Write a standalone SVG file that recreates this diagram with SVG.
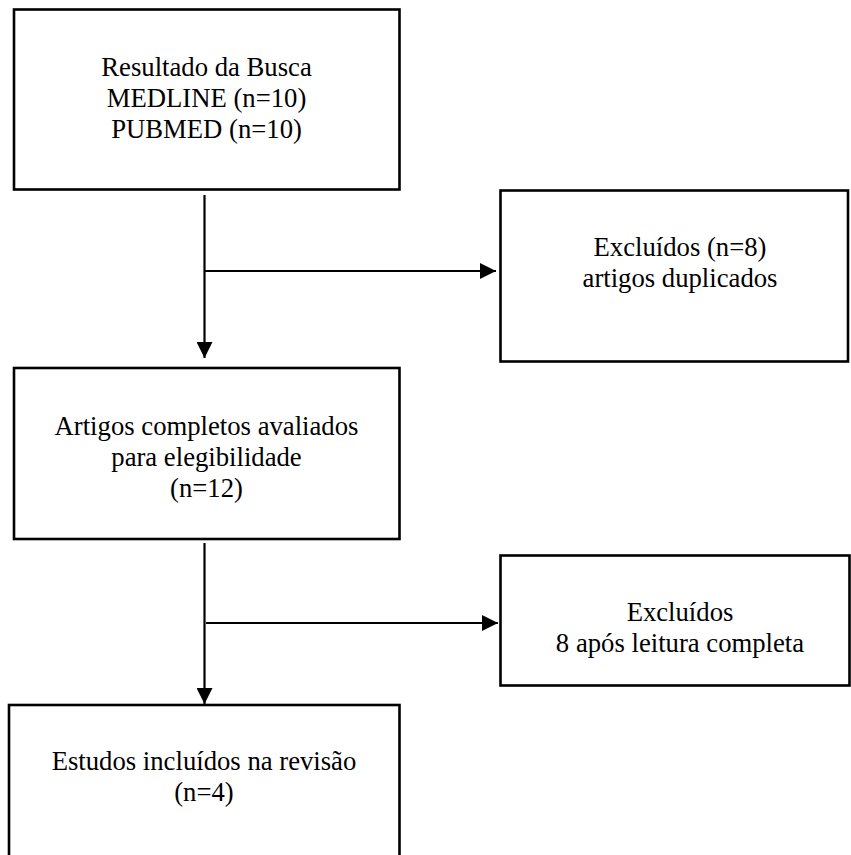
<svg xmlns="http://www.w3.org/2000/svg" width="851" height="855" viewBox="0 0 851 855">
<style>
.box{fill:#fff;stroke:#000;stroke-width:2.6}
.t{font-family:"Liberation Serif","Times New Roman",serif;font-size:26.7px;fill:#000;text-anchor:middle}
.ln{stroke:#000;stroke-width:2.2;fill:none}
</style>
<defs>
<marker id="ah" markerUnits="userSpaceOnUse" markerWidth="16" markerHeight="16" viewBox="0 0 16 16" refX="16" refY="8" orient="auto">
<path d="M0,0 L16,8 L0,16 Z" fill="#000"/>
</marker>
</defs>
<rect width="851" height="855" fill="#fff"/>
<g id="connectors">
<line class="ln" x1="204.5" y1="195" x2="204.5" y2="358" marker-end="url(#ah)"/>
<line class="ln" x1="204.5" y1="271" x2="496" y2="271" marker-end="url(#ah)"/>
<line class="ln" x1="204.5" y1="543" x2="204.5" y2="704" marker-end="url(#ah)"/>
<line class="ln" x1="206" y1="623" x2="498" y2="623" marker-end="url(#ah)"/>
</g>
<g id="n1">
<rect class="box" x="14" y="9.5" width="385.5" height="180"/>
<text class="t" x="206.5" y="76">Resultado da Busca</text>
<text class="t" x="206.5" y="107">MEDLINE (n=10)</text>
<text class="t" x="206.5" y="138">PUBMED (n=10)</text>
</g>
<g id="n2">
<rect class="box" x="500.5" y="190.5" width="347.5" height="171"/>
<text class="t" x="680" y="256">Excluídos (n=8)</text>
<text class="t" x="680" y="287">artigos duplicados</text>
</g>
<g id="n3">
<rect class="box" x="14" y="368" width="385.5" height="171"/>
<text class="t" x="206.5" y="435">Artigos completos avaliados</text>
<text class="t" x="206.5" y="466">para elegibilidade</text>
<text class="t" x="206.5" y="497">(n=12)</text>
</g>
<g id="n4">
<rect class="box" x="500.5" y="555.5" width="349" height="130"/>
<text class="t" x="680" y="621">Excluídos</text>
<text class="t" x="680" y="652">8 após leitura completa</text>
</g>
<g id="n5">
<rect class="box" x="9" y="705" width="390.5" height="170"/>
<text class="t" x="204" y="770">Estudos incluídos na revisão</text>
<text class="t" x="204" y="801">(n=4)</text>
</g>
</svg>
